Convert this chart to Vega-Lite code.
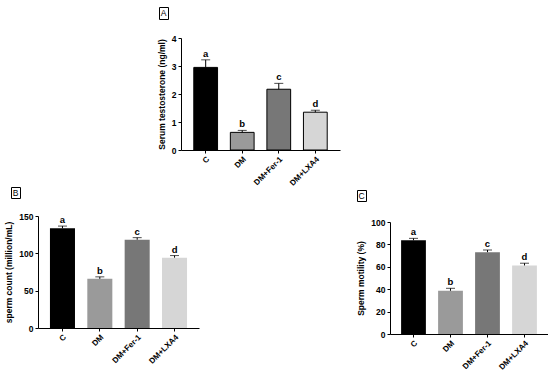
{
  "$schema": "https://vega.github.io/schema/vega-lite/v6.json",
  "background": "white",
  "padding": {"left": 4, "top": 6, "right": 0, "bottom": 0},
  "datasets": {
    "testosterone": [
      {"group": "C", "value": 2.95, "err": 3.22, "letter": "a"},
      {"group": "DM", "value": 0.63, "err": 0.7, "letter": "b"},
      {"group": "DM+Fer-1", "value": 2.17, "err": 2.38, "letter": "c"},
      {"group": "DM+LXA4", "value": 1.35, "err": 1.42, "letter": "d"}
    ],
    "count": [
      {"group": "C", "value": 133.5, "err": 136.5, "letter": "a"},
      {"group": "DM", "value": 65.8, "err": 68.5, "letter": "b"},
      {"group": "DM+Fer-1", "value": 118.2, "err": 121, "letter": "c"},
      {"group": "DM+LXA4", "value": 94.2, "err": 97, "letter": "d"}
    ],
    "motility": [
      {"group": "C", "value": 83.6, "err": 85.4, "letter": "a"},
      {"group": "DM", "value": 38.6, "err": 40.8, "letter": "b"},
      {"group": "DM+Fer-1", "value": 73.1, "err": 75, "letter": "c"},
      {"group": "DM+LXA4", "value": 61.2, "err": 63.2, "letter": "d"}
    ],
    "blank": [{}]
  },
  "config": {
    "font": "Liberation Sans",
    "view": {"stroke": null},
    "axis": {
      "domainColor": "black",
      "domainWidth": 1,
      "tickColor": "black",
      "tickWidth": 1,
      "tickSize": 3,
      "grid": false,
      "labelOverlap": false,
      "labelFont": "Liberation Sans",
      "labelFontWeight": "bold",
      "labelFontSize": 8.5,
      "labelColor": "black",
      "labelPadding": 2,
      "titleFont": "Liberation Sans",
      "titleFontWeight": "bold",
      "titleFontSize": 8.5,
      "titleColor": "black"
    },
    "axisX": {"labelAngle": -45, "labelFontSize": 8, "title": null},
    "concat": {"spacing": 0}
  },
  "concat": [
    {
      "concat": [
        {"width": 135, "height": 1, "data": {"name": "blank"}, "mark": {"type": "point", "opacity": 0, "size": 0, "strokeWidth": 0}, "encoding": {}},
        {
          "width": 9, "height": 12,
          "view": {"stroke": "black", "strokeWidth": 1},
          "data": {"values": [{"label": "A"}]},
          "mark": {"type": "text", "fontSize": 8.5, "color": "black"},
          "encoding": {"text": {"field": "label"}}
        },
        {"width": 1, "height": 1, "data": {"name": "blank"}, "mark": {"type": "point", "opacity": 0, "size": 0, "strokeWidth": 0}, "encoding": {}},
        {"width": 1, "height": 1, "data": {"name": "blank"}, "mark": {"type": "point", "opacity": 0, "size": 0, "strokeWidth": 0}, "encoding": {}},
        {"width": 1, "height": 1, "data": {"name": "blank"}, "mark": {"type": "point", "opacity": 0, "size": 0, "strokeWidth": 0}, "encoding": {}},
        {
          "width": 159, "height": 112,
          "data": {"name": "testosterone"},
          "encoding": {
            "x": {"field": "group", "type": "nominal", "sort": null,
                  "scale": {"paddingInner": 0.35, "paddingOuter": 0.35}}
          },
          "layer": [
            {
              "mark": {"type": "bar", "stroke": "black", "strokeWidth": 1},
              "encoding": {
                "y": {"field": "value", "type": "quantitative",
                      "scale": {"domain": [0, 4], "nice": false},
                      "axis": {"values": [0, 1, 2, 3, 4], "tickCount": 10, "format": "d", "title": "Serum testosterone (ng/ml)", "titlePadding": 5}},
                "fill": {"field": "group", "type": "nominal", "legend": null,
                         "scale": {"domain": ["C", "DM", "DM+Fer-1", "DM+LXA4"],
                                   "range": ["#000000", "#9a9a9a", "#777777", "#d6d6d6"]}}
              }
            },
            {
              "mark": {"type": "rule", "color": "black", "strokeWidth": 1},
              "encoding": {"y": {"field": "value", "type": "quantitative"}, "y2": {"field": "err"}}
            },
            {
              "mark": {"type": "tick", "color": "black", "thickness": 1, "size": 9},
              "encoding": {"y": {"field": "err", "type": "quantitative"}}
            },
            {
              "mark": {"type": "text", "fontSize": 9.5, "fontWeight": "bold", "color": "black", "dy": -1, "baseline": "bottom"},
              "encoding": {"y": {"field": "err", "type": "quantitative"}, "text": {"field": "letter"}}
            }
          ]
        }
      ],
      "columns": 3,
      "align": "each",
      "bounds": "flush",
      "spacing": {"row": 19, "column": 13}
    },
    {
      "concat": [
        {
          "concat": [
            {
              "width": 9, "height": 11,
              "view": {"stroke": "black", "strokeWidth": 1},
              "data": {"values": [{"label": "B"}]},
              "mark": {"type": "text", "fontSize": 8.5, "color": "black"},
              "encoding": {"text": {"field": "label"}}
            },
            {"width": 1, "height": 1, "data": {"name": "blank"}, "mark": {"type": "point", "opacity": 0, "size": 0, "strokeWidth": 0}, "encoding": {}},
            {"width": 1, "height": 1, "data": {"name": "blank"}, "mark": {"type": "point", "opacity": 0, "size": 0, "strokeWidth": 0}, "encoding": {}},
            {
              "width": 161, "height": 112,
              "data": {"name": "count"},
              "encoding": {
                "x": {"field": "group", "type": "nominal", "sort": null,
                      "scale": {"paddingInner": 0.33, "paddingOuter": 0.32}}
              },
              "layer": [
                {
                  "mark": {"type": "bar"},
                  "encoding": {
                    "y": {"field": "value", "type": "quantitative",
                          "scale": {"domain": [0, 150], "nice": false},
                          "axis": {"values": [0, 50, 100, 150], "tickCount": 10, "format": "d", "title": "sperm count (million/mL)", "titlePadding": 5}},
                    "fill": {"field": "group", "type": "nominal", "legend": null,
                             "scale": {"domain": ["C", "DM", "DM+Fer-1", "DM+LXA4"],
                                       "range": ["#050505", "#a0a0a0", "#7e7e7e", "#d4d4d4"]}}
                  }
                },
                {
                  "mark": {"type": "rule", "color": "black", "strokeWidth": 1},
                  "encoding": {"y": {"field": "value", "type": "quantitative"}, "y2": {"field": "err"}}
                },
                {
                  "mark": {"type": "tick", "color": "black", "thickness": 1, "size": 9},
                  "encoding": {"y": {"field": "err", "type": "quantitative"}}
                },
                {
                  "mark": {"type": "text", "fontSize": 9.5, "fontWeight": "bold", "color": "black", "dy": -1, "baseline": "bottom"},
                  "encoding": {"y": {"field": "err", "type": "quantitative"}, "text": {"field": "letter"}}
                }
              ]
            }
          ],
          "columns": 2,
          "align": "each",
          "bounds": "flush",
          "spacing": {"row": 18, "column": 18}
        },
        {
          "concat": [
            {"width": 322, "height": 1, "data": {"name": "blank"}, "mark": {"type": "point", "opacity": 0, "size": 0, "strokeWidth": 0}, "encoding": {}},
            {
              "width": 9, "height": 11,
              "view": {"stroke": "black", "strokeWidth": 1},
              "data": {"values": [{"label": "C"}]},
              "mark": {"type": "text", "fontSize": 8.5, "color": "black"},
              "encoding": {"text": {"field": "label"}}
            },
            {"width": 1, "height": 1, "data": {"name": "blank"}, "mark": {"type": "point", "opacity": 0, "size": 0, "strokeWidth": 0}, "encoding": {}},
            {"width": 1, "height": 1, "data": {"name": "blank"}, "mark": {"type": "point", "opacity": 0, "size": 0, "strokeWidth": 0}, "encoding": {}},
            {"width": 1, "height": 1, "data": {"name": "blank"}, "mark": {"type": "point", "opacity": 0, "size": 0, "strokeWidth": 0}, "encoding": {}},
            {
              "width": 158, "height": 112,
              "data": {"name": "motility"},
              "encoding": {
                "x": {"field": "group", "type": "nominal", "sort": null,
                      "scale": {"paddingInner": 0.33, "paddingOuter": 0.3}}
              },
              "layer": [
                {
                  "mark": {"type": "bar"},
                  "encoding": {
                    "y": {"field": "value", "type": "quantitative",
                          "scale": {"domain": [0, 100], "nice": false},
                          "axis": {"values": [0, 20, 40, 60, 80, 100], "tickCount": 10, "format": "d", "title": "Sperm motility (%)", "titlePadding": 5}},
                    "fill": {"field": "group", "type": "nominal", "legend": null,
                             "scale": {"domain": ["C", "DM", "DM+Fer-1", "DM+LXA4"],
                                       "range": ["#050505", "#a0a0a0", "#7e7e7e", "#d4d4d4"]}}
                  }
                },
                {
                  "mark": {"type": "rule", "color": "black", "strokeWidth": 1},
                  "encoding": {"y": {"field": "value", "type": "quantitative"}, "y2": {"field": "err"}}
                },
                {
                  "mark": {"type": "tick", "color": "black", "thickness": 1, "size": 9},
                  "encoding": {"y": {"field": "err", "type": "quantitative"}}
                },
                {
                  "mark": {"type": "text", "fontSize": 9.5, "fontWeight": "bold", "color": "black", "dy": -1, "baseline": "bottom"},
                  "encoding": {"y": {"field": "err", "type": "quantitative"}, "text": {"field": "letter"}}
                }
              ]
            }
          ],
          "columns": 3,
          "align": "each",
          "bounds": "flush",
          "spacing": {"row": 21, "column": 24}
        }
      ],
      "columns": 1,
      "align": "each",
      "bounds": "flush",
      "spacing": 3
    }
  ],
  "columns": 1,
  "align": "each",
  "bounds": "flush",
  "spacing": 180
}
